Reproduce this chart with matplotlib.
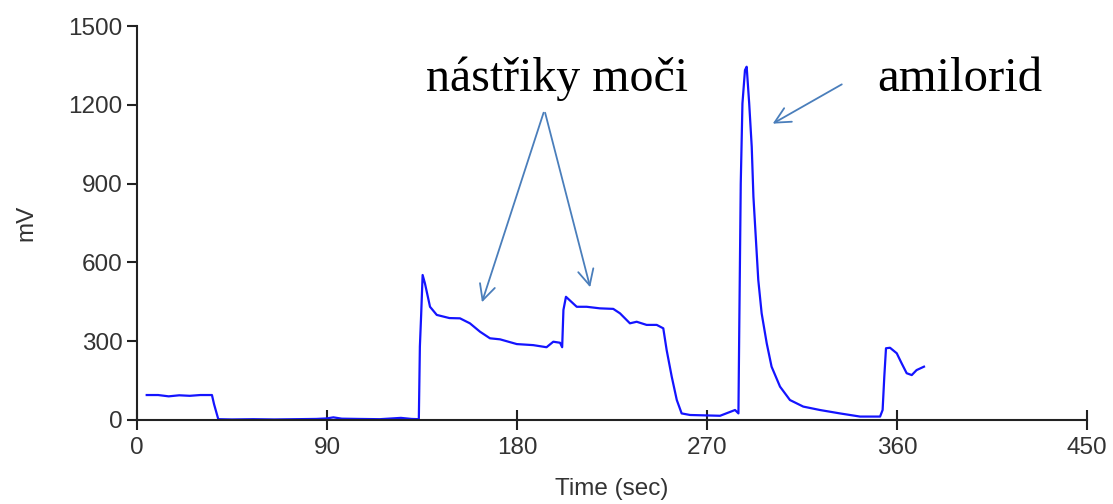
import matplotlib.pyplot as plt

# trace (time in s, signal in mV)
t = [4.6, 10, 15, 20, 25, 30, 35.5, 36.5, 38.5, 45, 55, 65, 75, 85, 90, 93, 97, 105,
     115, 125, 130, 133.5, 134, 134.6, 135.3, 136.4, 138.8, 142, 148, 153, 157.7,
     162.5, 167.2, 172, 179.9, 187.7, 194, 197.2, 200.4, 201.4, 202, 203.2, 208.3,
     213, 219.3, 225.6, 228.8, 233.5, 236.7, 241.4, 246.2, 249.3, 250.9, 253.3,
     255.7, 258, 262, 266.7, 276.2, 283.3, 284.9, 285.3, 286, 286.8, 288, 288.8,
     290, 291.2, 292, 293.1, 294.3, 295.9, 298.3, 300.6, 304.6, 309.3, 315.6,
     323.5, 333, 342.5, 352, 353.2, 354, 354.8, 356.7, 359.9, 362.2, 364.6, 367,
     369.3, 372.8]
mv = [95, 95, 90, 94, 92, 95, 95, 60, 3, 2, 3, 2, 3, 4, 6, 10, 5, 4,
      3, 8, 4, 3, 280, 400, 552, 520, 431, 400, 388, 387, 368,
      336, 311, 307, 289, 285, 277, 298, 294, 277, 419, 469, 431,
      431, 425, 423, 406, 368, 374, 362, 362, 349, 266, 165,
      76, 25, 19, 18, 16, 38, 25, 355, 901, 1205, 1332, 1345,
      1205, 1040, 850, 698, 533, 406, 292, 203, 127, 76, 51,
      38, 25, 13, 13, 38, 165, 273, 275, 254, 216, 178, 171,
      190, 203]

x_ticks = [0, 90, 180, 270, 360, 450]
y_ticks = [0, 300, 600, 900, 1200, 1500]

# arrows: (tail, head) in data units
arrows_moci = [((193, 1180), (163, 438)), ((193, 1180), (215, 495))]
arrow_amil = ((335, 1283), (300, 1123))

fig = plt.figure(figsize=(11.13, 5.04), dpi=100)
ax = fig.add_axes([0.1231, 0.1667, 0.8535, 0.7817])

ax.plot(t, mv, color='#1414ff', linewidth=1.6)

ax.set_xlim(0, 450)
ax.set_ylim(0, 1500)
ax.set_xticks(x_ticks)
ax.set_yticks(y_ticks)
for s in ['top', 'right']:
    ax.spines[s].set_visible(False)
for s in ['left', 'bottom']:
    ax.spines[s].set_linewidth(1.5)
    ax.spines[s].set_color('#222222')
ax.tick_params(axis='y', direction='out', length=7, width=1.5, color='#222222',
               labelsize=17.5, labelcolor='#333333')
ax.tick_params(axis='x', direction='inout', length=14, width=1.5, color='#222222',
               labelsize=17.5, labelcolor='#333333', pad=5)
for lab in ax.get_xticklabels() + ax.get_yticklabels():
    lab.set_family('Liberation Sans')

ax.set_xlabel('Time (sec)', fontsize=17.5, family='Liberation Sans', color='#333333', labelpad=14)
ax.set_ylabel('mV', fontsize=17.5, family='Liberation Sans', color='#333333', labelpad=22)

ax.text(199, 1300, 'nástřiky moči', fontsize=34.5, family='Liberation Serif',
        ha='center', va='center')
ax.text(390, 1300, 'amilorid', fontsize=35, family='Liberation Serif',
        ha='center', va='center')

arr = dict(arrowstyle='->', color='#4a7ebb', lw=1.3, mutation_scale=28)
for tail, head in arrows_moci:
    ax.annotate('', xy=head, xytext=tail, arrowprops=arr)
ax.annotate('', xy=arrow_amil[1], xytext=arrow_amil[0], arrowprops=arr)

fig.savefig('out.png', dpi=100)
